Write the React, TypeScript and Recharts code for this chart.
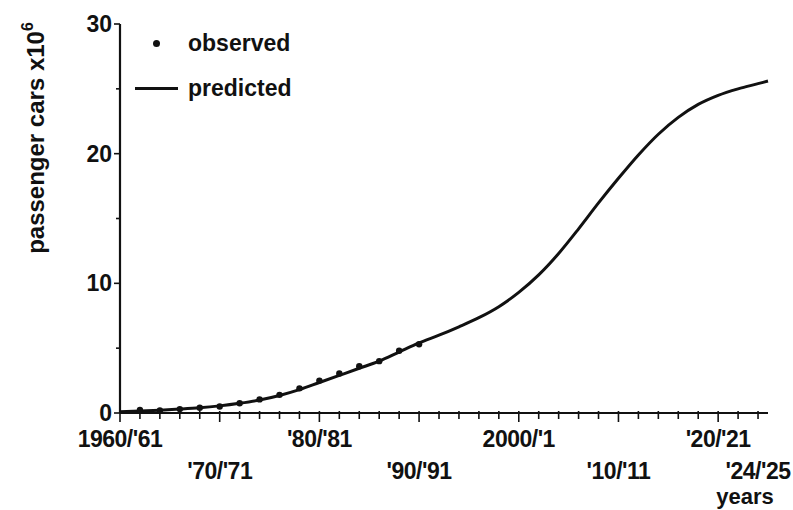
import React from "react";
import { ComposedChart, Line, XAxis, YAxis, Label } from "recharts";

// predicted curve, read every 2 years off the figure
const predYears = [
  1960, 1962, 1964, 1966, 1968, 1970, 1972, 1974, 1976, 1978, 1980, 1982,
  1984, 1986, 1988, 1990, 1992, 1994, 1996, 1998, 2000, 2002, 2004, 2006,
  2008, 2010, 2012, 2014, 2016, 2018, 2020, 2022, 2024, 2025,
];
const predicted = [
  0.1, 0.15, 0.22, 0.3, 0.4, 0.55, 0.75, 1.0, 1.35, 1.8, 2.35, 2.9, 3.45,
  4.0, 4.7, 5.4, 6.0, 6.65, 7.35, 8.2, 9.3, 10.65, 12.3, 14.2, 16.2, 18.1,
  19.9, 21.5, 22.8, 23.8, 24.5, 25.0, 25.4, 25.6,
];

// observed counts
const obsYears = [
  1962, 1964, 1966, 1968, 1970, 1972, 1974, 1976, 1978, 1980, 1982, 1984,
  1986, 1988, 1990,
];
const observed = [
  0.23, 0.2, 0.3, 0.4, 0.5, 0.75, 1.05, 1.4, 1.9, 2.5, 3.05, 3.6, 4.0, 4.8,
  5.3,
];

// x axis
const xTicks = [
  1960, 1962, 1964, 1966, 1968, 1970, 1972, 1974, 1976, 1978, 1980, 1982,
  1984, 1986, 1988, 1990, 1992, 1994, 1996, 1998, 2000, 2002, 2004, 2006,
  2008, 2010, 2012, 2014, 2016, 2018, 2020, 2022, 2024,
];
const labelYears = [1960, 1970, 1980, 1990, 2000, 2010, 2020, 2024];
const labelTexts = [
  "1960/'61",
  "'70/'71",
  "'80/'81",
  "'90/'91",
  "2000/'1",
  "'10/'11",
  "'20/'21",
  "'24/'25",
];

// y axis
const yTicks = [0, 5, 10, 15, 20, 25, 30];
const yLabels = [0, 10, 20, 30];

const FONT = "'Liberation Sans', Arial, Helvetica, sans-serif";
const INK = "#111";

const data = predYears.map((year, i) => {
  const j = obsYears.indexOf(year);
  return {
    year,
    predicted: predicted[i],
    observed: j >= 0 ? observed[j] : null,
  };
});

const XTick = ({ x, y, payload }: any) => {
  const v = payload.value;
  const idx = labelYears.indexOf(v);
  const major = v % 10 === 0;
  return (
    <g>
      <line
        x1={x}
        x2={x}
        y1={y - 2}
        y2={y + (major ? 9 : 6)}
        stroke={INK}
        strokeWidth={1.6}
      />
      {idx >= 0 && (
        <text
          x={x}
          y={y + (idx % 2 === 0 ? 34 : 66)}
          textAnchor="middle"
          fontFamily={FONT}
          fontWeight="bold"
          fontSize={23}
          letterSpacing={-0.5}
          fill={INK}
        >
          {labelTexts[idx]}
        </text>
      )}
    </g>
  );
};

const YTick = ({ x, y, payload }: any) => {
  const v = payload.value;
  const labelled = yLabels.includes(v);
  return (
    <g>
      <line
        x1={x - (labelled ? 6 : 4)}
        x2={x}
        y1={y}
        y2={y}
        stroke={INK}
        strokeWidth={1.6}
      />
      {labelled && (
        <text
          x={x - 8}
          y={y + 8}
          textAnchor="end"
          fontFamily={FONT}
          fontWeight="bold"
          fontSize={23}
          fill={INK}
        >
          {v}
        </text>
      )}
    </g>
  );
};

const LegendBox = () => (
  <div
    style={{
      position: "absolute",
      left: 135,
      top: 21,
      fontFamily: FONT,
      fontWeight: "bold",
      fontSize: 23,
      color: INK,
      lineHeight: 1,
    }}
  >
    <div style={{ display: "flex", alignItems: "center", height: 45 }}>
      <span
        style={{ width: 43, display: "flex", justifyContent: "center" }}
      >
        <span
          style={{
            width: 7,
            height: 7,
            borderRadius: "50%",
            background: INK,
          }}
        />
      </span>
      <span style={{ marginLeft: 10 }}>observed</span>
    </div>
    <div style={{ display: "flex", alignItems: "center", height: 45 }}>
      <span style={{ width: 43, height: 3, background: INK }} />
      <span style={{ marginLeft: 10 }}>predicted</span>
    </div>
  </div>
);

export default function App() {
  return (
    <div
      style={{
        position: "absolute",
        left: 0,
        top: 0,
        width: 793,
        height: 510,
        background: "#fff",
      }}
    >
      <ComposedChart
        width={793}
        height={510}
        data={data}
        margin={{ top: 24, right: 25, left: 60, bottom: 0 }}
      >
        <XAxis
          dataKey="year"
          type="number"
          domain={[1960, 2025]}
          ticks={xTicks}
          interval={0}
          height={97}
          tickSize={0}
          tickMargin={0}
          tickLine={false}
          tick={<XTick />}
          axisLine={{ stroke: INK, strokeWidth: 2.2 }}
        >
          <Label
            content={({ viewBox }: any) => (
              <text
                x={viewBox.x + viewBox.width - 23}
                y={viewBox.y + 91}
                textAnchor="middle"
                fontFamily={FONT}
                fontWeight="bold"
                fontSize={22}
                fill={INK}
              >
                years
              </text>
            )}
          />
        </XAxis>
        <YAxis
          type="number"
          domain={[0, 30]}
          ticks={yTicks}
          interval={0}
          width={60}
          tickSize={0}
          tickMargin={0}
          tickLine={false}
          tick={<YTick />}
          axisLine={{ stroke: INK, strokeWidth: 2.2 }}
        >
          <Label
            content={({ viewBox }: any) => {
              const cx = viewBox.x - 16;
              const cy = 138;
              return (
                <text
                  x={cx}
                  y={cy}
                  transform={`rotate(-90 ${cx} ${cy})`}
                  textAnchor="middle"
                  fontFamily={FONT}
                  fontWeight="bold"
                  fontSize={24}
                  fill={INK}
                >
                  passenger cars x10
                  <tspan dy={-11} fontSize={16}>
                    6
                  </tspan>
                </text>
              );
            }}
          />
        </YAxis>
        <Line
          dataKey="predicted"
          type="monotone"
          stroke={INK}
          strokeWidth={3}
          dot={false}
          isAnimationActive={false}
        />
        <Line
          dataKey="observed"
          type="monotone"
          stroke="none"
          dot={{ r: 3.2, fill: INK, stroke: "none" }}
          isAnimationActive={false}
        />
      </ComposedChart>
      <LegendBox />
    </div>
  );
}
